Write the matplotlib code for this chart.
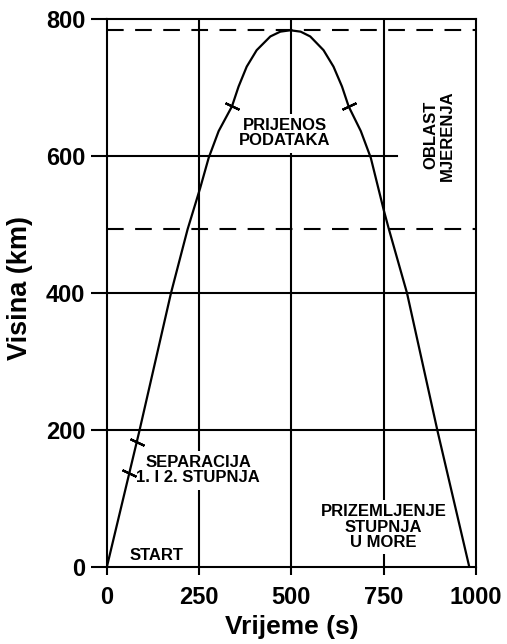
import matplotlib.pyplot as plt

# podaci ocitani sa slike
vrijeme = [0, 88, 174, 219, 253, 276, 303, 339, 357, 379, 406, 443, 470, 497,
           525, 551, 587, 614, 637, 655, 688, 715, 750, 764, 813, 896, 982]
visina = [0, 198, 400, 493, 553, 597, 636, 672, 701, 730, 754, 774, 781, 783,
          781, 774, 754, 730, 701, 672, 636, 597, 521, 493, 400, 198, 0]

# oznake dogadaja na putanji
oznaka_t = [61, 81, 339, 655]
oznaka_h = [137, 183, 672, 672]
oznaka_kut = [65, 65, 65, -65]

granice = [784, 493]  # oblast mjerenja
x_ticks = [0, 250, 500, 750, 1000]
y_ticks = [0, 200, 400, 600, 800]

plt.rcParams['font.family'] = ['Liberation Sans', 'DejaVu Sans']
plt.rcParams['font.weight'] = 'bold'

fig = plt.figure(figsize=(5.07, 6.44), dpi=100)
ax = fig.add_axes([0.2105, 0.1188, 0.7285, 0.8523])

lw = 1.5
# mreza
for x in [250, 500, 750]:
    ax.axvline(x, color='black', lw=lw, zorder=1)
for y in [200, 400]:
    ax.axhline(y, color='black', lw=lw, zorder=1)
ax.plot([0, 785], [600, 600], color='black', lw=lw, zorder=1)
for y in granice:
    ax.axhline(y, color='black', lw=lw, linestyle=(0, (8, 5.5)), zorder=1)

# putanja
ax.plot(vrijeme, visina, color='black', lw=1.6, zorder=3, solid_joinstyle='round')
for t, h, k in zip(oznaka_t, oznaka_h, oznaka_kut):
    ax.plot(t, h, marker=(2, 2, k), markersize=11, mew=1.6, color='black', zorder=3)

box = dict(facecolor='white', edgecolor='none', pad=3)
fs = 12
ax.text(483, 633, 'PRIJENOS\nPODATAKA', ha='center', va='center', fontsize=fs,
        fontweight='bold', linespacing=1.05, bbox=box, zorder=2)
ax.text(248, 142, 'SEPARACIJA\n1. I 2. STUPNJA', ha='center', va='center', fontsize=fs,
        fontweight='bold', linespacing=1.05, bbox=box, zorder=2)
ax.text(134, 18, 'START', ha='center', va='center', fontsize=fs,
        fontweight='bold', bbox=box, zorder=2)
ax.text(750, 59, 'PRIZEMLJENJE\nSTUPNJA\nU MORE', ha='center', va='center', fontsize=fs,
        fontweight='bold', linespacing=1.05, bbox=box, zorder=2)
ax.text(900, 630, 'OBLAST\nMJERENJA', ha='center', va='center', fontsize=fs,
        fontweight='bold', rotation=90, linespacing=1.05, zorder=2)

ax.set_xlim(0, 1000)
ax.set_ylim(0, 800)
ax.set_xticks(x_ticks)
ax.set_yticks(y_ticks)
for s in ax.spines.values():
    s.set_linewidth(lw)
ax.tick_params(axis='y', direction='out', length=11.5, width=lw, pad=4, labelsize=17)
ax.tick_params(axis='x', direction='out', length=6, width=lw, pad=7, labelsize=17)
for lab in ax.get_xticklabels() + ax.get_yticklabels():
    lab.set_fontweight('bold')

ax.set_xlabel('Vrijeme (s)', fontsize=19, fontweight='bold', labelpad=5)
ax.set_ylabel('Visina (km)', fontsize=19.5, fontweight='bold')
ax.yaxis.set_label_coords(-0.2, 0.51)

fig.savefig('out.png', dpi=100)
